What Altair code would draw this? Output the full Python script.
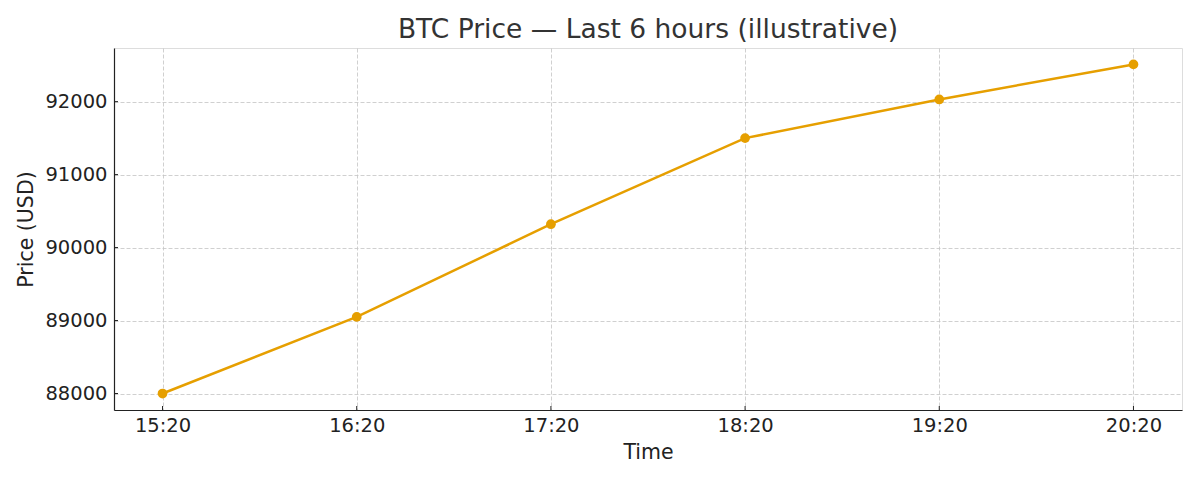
import altair as alt
import pandas as pd

times = ["15:20", "16:20", "17:20", "18:20", "19:20", "20:20"]
prices = [88000, 89050, 90320, 91500, 92030, 92510]
y_ticks = [88000, 89000, 90000, 91000, 92000]

df = pd.DataFrame({"Time": times, "Price": prices})
tick_df = pd.DataFrame({"Price": y_ticks})

font = "DejaVu Sans"
orange = "#E69F00"
dark = "#222222"
grid_c = "#c4c4c4"
H = 362

x_enc = alt.X(
    "Time:O",
    sort=times,
    scale=alt.Scale(type="point", padding=0.25),
    axis=alt.Axis(
        title="Time",
        labelAngle=0,
        labelAlign="center",
        labelBaseline="top",
        grid=True,
        gridDash=[4, 2],
        gridColor=grid_c,
        gridWidth=0.8,
        domainColor=dark,
        domainWidth=1.2,
        ticks=True,
        tickSize=4,
        tickOpacity=0,
        labelPadding=2,
        labelFontSize=19.5,
        labelColor=dark,
        titleFontSize=20.5,
        titleFontWeight="normal",
        titleColor=dark,
        titlePadding=8,
        labelFont=font,
        titleFont=font,
    ),
)
y_scale = alt.Scale(domain=[87774, 92735], nice=False, zero=False)
y_enc = alt.Y(
    "Price:Q",
    scale=y_scale,
    axis=alt.Axis(
        title="Price (USD)",
        values=y_ticks,
        format="d",
        grid=True,
        gridDash=[4, 2],
        gridColor=grid_c,
        gridWidth=0.8,
        domainColor=dark,
        domainWidth=1.2,
        ticks=True,
        tickSize=4,
        tickOpacity=0,
        labelPadding=3,
        labelFontSize=19.5,
        labelColor=dark,
        titleFontSize=20.5,
        titleFontWeight="normal",
        titleColor=dark,
        titlePadding=8,
        labelFont=font,
        titleFont=font,
    ),
)

base = alt.Chart(df).encode(x=x_enc, y=y_enc)

line = base.mark_line(color=orange, strokeWidth=2.5)
points = base.mark_circle(color=orange, size=95, opacity=1)

# inward tick marks
x_ticks = alt.Chart(df).mark_rule(color=dark, strokeWidth=1).encode(
    x=alt.X("Time:O", sort=times),
    y=alt.value(H - 4),
    y2=alt.value(H),
)
y_tick_marks = alt.Chart(tick_df).mark_rule(color=dark, strokeWidth=1).encode(
    y=alt.Y("Price:Q", scale=y_scale),
    x=alt.value(0),
    x2=alt.value(4),
)

chart = (
    alt.layer(x_ticks, y_tick_marks, line, points)
    .properties(
        width=1068,
        height=H,
        title=alt.TitleParams(
            "BTC Price — Last 6 hours (illustrative)",
            fontSize=26.5,
            font=font,
            fontWeight="normal",
            color="#333333",
            anchor="middle",
            offset=5,
        ),
        autosize=alt.AutoSizeParams(type="none"),
        padding={"left": 106, "top": 40, "right": 10, "bottom": 62},
    )
    .configure_view(stroke=None)
    .configure(background="white")
)

chart.save("out.html", embed_options={"renderer": "svg", "actions": False})
